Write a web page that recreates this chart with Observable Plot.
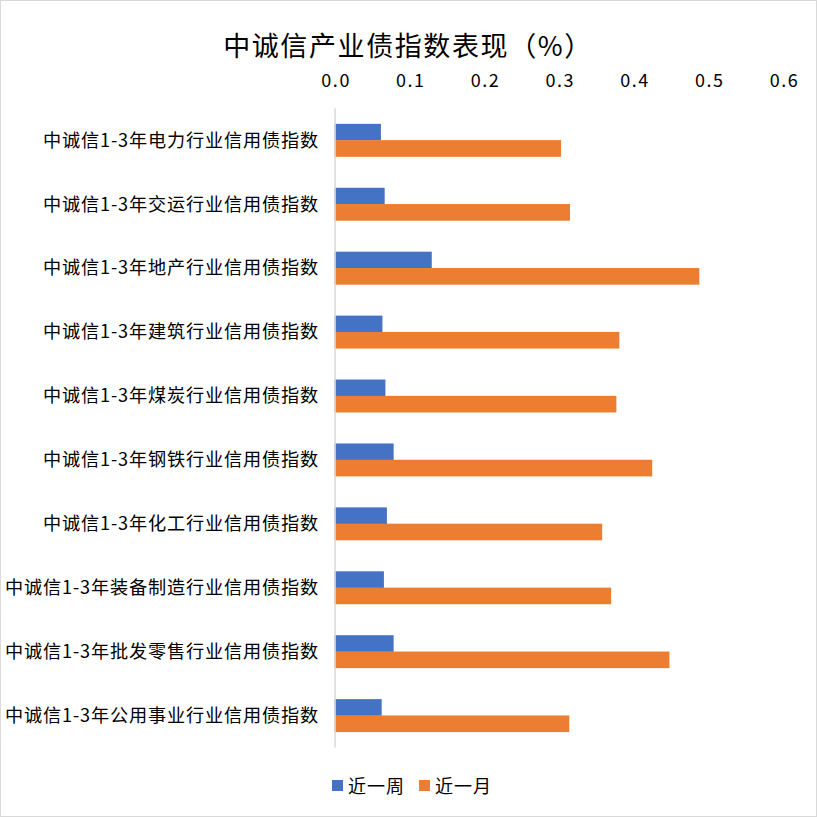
<!DOCTYPE html>
<html>
<head>
<meta charset="utf-8">
<script src="https://cdn.jsdelivr.net/npm/d3@7"></script>
<script src="https://cdn.jsdelivr.net/npm/@observablehq/plot@0.6"></script>
<style>
  html, body { margin: 0; padding: 0; background: #fff; }
  #wrap { position: relative; width: 817px; height: 817px; box-sizing: border-box; border: 1px solid #d9d9d9; overflow: hidden; font-family: "Noto Sans CJK SC", "Noto Sans", sans-serif; }
  #title { position: absolute; left: 6px; top: 25px; width: 802px; text-align: center; font-size: 27px; letter-spacing: 1.6px; color: #000; line-height: 38px; }
  #chart { position: absolute; left: -1px; top: -1px; }
  #chart g[aria-label="y-axis tick label"] text { letter-spacing: 0.85px; }
  #chart g[aria-label="x-axis tick label"] text { letter-spacing: 1.6px; }
  #legend { position: absolute; top: 771px; left: 331px; font-size: 18px; letter-spacing: 1px; color: #000; display: flex; align-items: center; }
  .sw { display: inline-block; width: 11px; height: 11px; margin-right: 5px; }
  .item { display: flex; align-items: center; margin-right: 14px; }
</style>
</head>
<body>
<div id="wrap">
  <div id="title">中诚信产业债指数表现（%）</div>
  <div id="chart"></div>
  <div id="legend"></div>
</div>
<script>
const categories = [
  "中诚信1-3年电力行业信用债指数",
  "中诚信1-3年交运行业信用债指数",
  "中诚信1-3年地产行业信用债指数",
  "中诚信1-3年建筑行业信用债指数",
  "中诚信1-3年煤炭行业信用债指数",
  "中诚信1-3年钢铁行业信用债指数",
  "中诚信1-3年化工行业信用债指数",
  "中诚信1-3年装备制造行业信用债指数",
  "中诚信1-3年批发零售行业信用债指数",
  "中诚信1-3年公用事业行业信用债指数"
];
const seriesNames = ["近一周", "近一月"];
const weekValues = [0.062, 0.067, 0.130, 0.064, 0.068, 0.079, 0.070, 0.066, 0.079, 0.063];
const monthValues = [0.303, 0.315, 0.488, 0.381, 0.377, 0.425, 0.358, 0.370, 0.448, 0.314];
const xTicks = [0, 0.1, 0.2, 0.3, 0.4, 0.5, 0.6];
const colors = ["#4472C4", "#ED7D31"];

const rows = categories.map((c, i) => ({cat: c, week: weekValues[i], month: monthValues[i]}));

const H = 760, mTop = 108.5, mBottom = 11.5;
const pIn = 0.49, pOut = 0.245;
const step = (H - mTop - mBottom) / (categories.length - pIn + 2 * pOut);
const half = step * (1 - pIn) / 2;

const chart = Plot.plot({
  width: 817,
  height: H,
  marginTop: mTop,
  marginBottom: mBottom,
  marginLeft: 335,
  marginRight: 33,
  style: {fontFamily: '"Noto Sans CJK SC", "Noto Sans", sans-serif', background: "transparent", color: "#000"},
  x: {domain: [0, 0.6], axis: null},
  y: {domain: categories, paddingInner: pIn, paddingOuter: pOut, axis: null},
  marks: [
    Plot.axisX({anchor: "top", ticks: xTicks, tickFormat: d3.format(".1f"), tickSize: 0, tickPadding: 22, fontSize: 18, fill: "#000", label: null, dx: 1}),
    Plot.axisY({anchor: "left", tickSize: 0, tickPadding: 16, fontSize: 18.2, fill: "#000", label: null}),
    Plot.barX(rows, {x: "week", y: "cat", fill: colors[0], insetBottom: half}),
    Plot.barX(rows, {x: "month", y: "cat", fill: colors[1], insetTop: half}),
    Plot.ruleX([0], {stroke: "#d9d9d9", strokeWidth: 1.5})
  ]
});
document.getElementById("chart").appendChild(chart);

const legend = document.getElementById("legend");
seriesNames.forEach((name, i) => {
  const it = document.createElement("div");
  it.className = "item";
  it.innerHTML = `<span class="sw" style="background:${colors[i]}"></span><span>${name}</span>`;
  legend.appendChild(it);
});
</script>
</body>
</html>
